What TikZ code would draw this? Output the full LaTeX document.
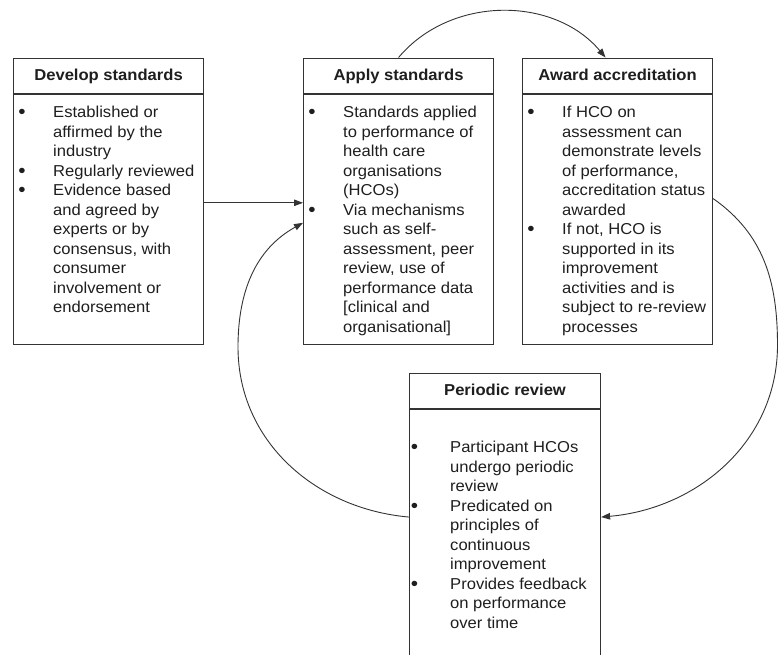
\documentclass[tikz,border=0pt]{standalone}
\usepackage{fontspec}
\setmainfont{Liberation Sans}[FakeStretch=1.05]
\usetikzlibrary{arrows.meta}
\definecolor{ink}{HTML}{1E1E1E}
\definecolor{edge}{HTML}{333333}
\newlength\bulw
% bullet hanging to the left of the item text
\newcommand\bul{\leavevmode\llap{\makebox[\bulw][l]{\raisebox{-0.9pt}{\scalebox{1.25}{\textbullet}}}}}
% body of a box: first baseline is the node's baseline
\newcommand\bodytext[2]{\parbox[t]{200pt}{\setlength\bulw{#1}\raggedright
  \fontsize{15.8}{19.5}\selectfont #2}}
\begin{document}
\begin{tikzpicture}[x=1pt,y=1pt,
  frame/.style={draw=edge, line width=1.1pt, minimum width=190pt, anchor=north west, inner sep=0pt},
  rule/.style={draw=edge, line width=1.1pt},
  head/.style={anchor=base, inner sep=0pt, text=ink, font={\fontsize{15.8}{19.5}\selectfont\bfseries}},
  body/.style={anchor=base west, inner sep=0pt, text=ink},
  conn/.style={draw=edge, line width=0.9pt, -{Triangle[length=9pt,width=6.5pt]}}]
\useasboundingbox (0,0) rectangle (779,-654);
\clip (0,0) rectangle (779,-654);

% boxes
\node[frame, minimum height=286.5pt] (dev) at (13,-57.5) {};
\node[frame, minimum height=286.5pt] (app) at (303,-57.5) {};
\node[frame, minimum height=286.5pt] (awd) at (522,-57.5) {};
\node[frame, minimum width=191pt, minimum height=287pt] (per) at (409,-373) {};

% header separators
\foreach \b in {dev,app,awd}
  \draw[rule] ([yshift=-36.5pt]\b.north west) -- ([yshift=-36.5pt]\b.north east);
\draw[rule] ([yshift=-36pt]per.north west) -- ([yshift=-36pt]per.north east);

% headers
\node[head] (devh) at ([yshift=-23.2pt]dev.north) {Develop standards};
\node[head] (apph) at ([yshift=-23.2pt]app.north) {Apply standards};
\node[head] (awdh) at ([yshift=-23.2pt]awd.north) {Award accreditation};
\node[head] (perh) at ([yshift=-22pt]per.north) {Periodic review};

% bodies
\node[body] (devt) at ([xshift=40pt,yshift=-60.3pt]dev.north west) {\bodytext{34.95pt}{%
\bul Established or\\
affirmed by the\\
industry\\
\bul Regularly reviewed\\
\bul Evidence based\\
and agreed by\\
experts or by\\
consensus, with\\
consumer\\
involvement or\\
endorsement}};

\node[body] (appt) at ([xshift=40pt,yshift=-60.3pt]app.north west) {\bodytext{34.95pt}{%
\bul Standards applied\\
to performance of\\
health care\\
organisations\\
(HCOs)\\
\bul Via mechanisms\\
such as self-\\
assessment, peer\\
review, use of\\
performance data\\
{[}clinical and\\
organisational]}};

\node[body] (awdt) at ([xshift=40pt,yshift=-60.3pt]awd.north west) {\bodytext{34.95pt}{%
\bul If HCO on\\
assessment can\\
demonstrate levels\\
of performance,\\
accreditation status\\
awarded\\
\bul If not, HCO is\\
supported in its\\
improvement\\
activities and is\\
subject to re-review\\
processes}};

\node[body] (pert) at ([xshift=41pt,yshift=-79.7pt]per.north west) {\bodytext{39.45pt}{%
\bul Participant HCOs\\
undergo periodic\\
review\\
\bul Predicated on\\
principles of\\
continuous\\
improvement\\
\bul Provides feedback\\
on performance\\
over time}};

% connectors
\draw[conn] ([yshift=-1.5pt]dev.east) -- ([yshift=-1.5pt]app.west);
\draw[conn] (app.north) to[out=50,in=130] ([xshift=-12pt]awd.north);
\coordinate (rgt) at (777.5,-345);
\draw[conn] ([yshift=2.75pt]awd.east) to[out=-35,in=90] (rgt) to[out=-90,in=5] (per.east);
\coordinate (lft) at (238,-347);
\draw[conn] (per.west) to[out=175,in=-90] (lft) to[out=90,in=-151] ([yshift=-21.5pt]app.west);
\end{tikzpicture}
\end{document}
